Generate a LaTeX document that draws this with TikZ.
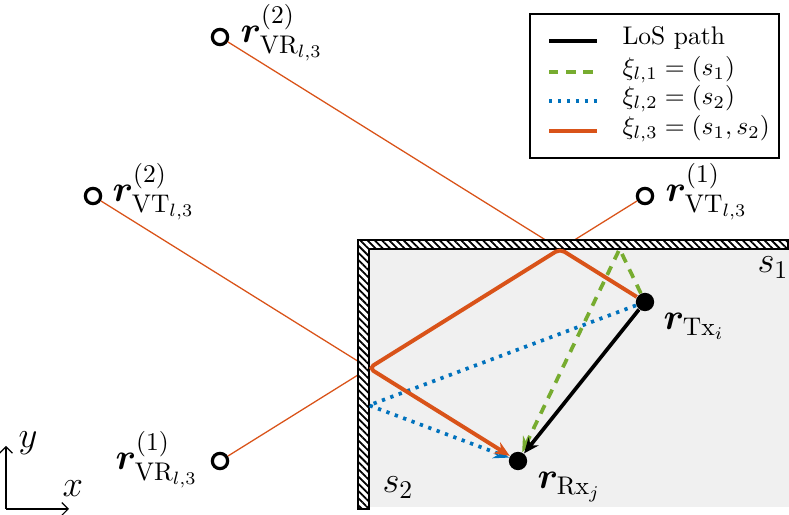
\documentclass[tikz,border=0pt]{standalone}
\usepackage{amsmath,bm}
\usetikzlibrary{patterns.meta,arrows.meta,calc}
\definecolor{myorange}{RGB}{217,83,25}
\definecolor{mygreen}{RGB}{119,172,48}
\definecolor{myblue}{RGB}{0,114,189}
\definecolor{roomgray}{RGB}{240,240,240}
\begin{document}
\begin{tikzpicture}[x=0.392pt,y=-0.392pt,
  antenna/.style={circle,fill=black,inner sep=0pt,minimum size=7.2pt},
  virt/.style={circle,draw=black,fill=white,line width=1.25pt,inner sep=0pt,minimum size=6pt},
  thinray/.style={myorange,line width=0.5pt},
  losray/.style={black,line width=1.45pt},
  onering/.style={mygreen,line width=1.45pt,dash pattern=on 3.7pt off 3pt},
  twoscat/.style={myblue,line width=1.45pt,dash pattern=on 1.3pt off 2.2pt},
  threeray/.style={myorange,line width=1.55pt,rounded corners=2pt},
  tip/.style={-{Stealth[length=6pt,width=5pt]}},
  lbl/.style={inner sep=0pt,anchor=base west,font=\Large},
  legtext/.style={inner sep=0pt,anchor=base west,font=\normalsize}]
\useasboundingbox (0,0) rectangle (789,515);

% geometry
\coordinate (P1) at (560,249);
\coordinate (P2) at (369,368.1);
\coordinate (G) at (619.6,249);
\coordinate (B) at (369,405.3);

% virtual nodes
\node[virt] (vt1) at (645,196) {};
\node[virt] (vt2) at (93,196) {};
\node[virt] (vr1) at (220,461) {};
\node[virt] (vr2) at (220,37) {};

% thin construction rays (covered by the walls below)
\draw[thinray] (vt1) -- (P1);
\draw[thinray] (vr2) -- (P1);
\draw[thinray] (vt2) -- (P2);
\draw[thinray] (vr1) -- (P2);

% room and walls
\fill[roomgray] (369,249) rectangle (789,507);
\fill[white] (358,240) -- (788,240) -- (788,249) -- (369,249) -- (369,509) -- (358,509) -- cycle;
\draw[line width=0.75pt,pattern={Lines[angle=-45,distance=2pt,line width=0.7pt]}]
  (358,240) -- (788,240) -- (788,249) -- (369,249) -- (369,509) -- (358,509) -- cycle;

% Tx / Rx
\node[antenna] (tx) at (645,302) {};
\node[antenna] (rx) at (518,461) {};

% rays
\draw[twoscat,tip] (tx) -- (B) -- (rx);
\draw[onering,tip] (tx) -- (G) -- (rx);
\draw[threeray,tip] (tx) -- (P1) -- (P2) -- (rx);
\draw[losray,tip] (tx) -- (rx);

% labels
\node[lbl] (ltx) at (663,330) {$\bm{r}_{\mathrm{Tx}_i}$};
\node[lbl] (lrx) at (537,489) {$\bm{r}_{\mathrm{Rx}_j}$};
\node[lbl] (ls1) at (757,273) {$s_1$};
\node[lbl] (ls2) at (382,493) {$s_2$};
\node[lbl] (lvt1) at (665,202) {$\bm{r}^{(1)}_{\mathrm{VT}_{l,3}}$};
\node[lbl] (lvt2) at (112,202) {$\bm{r}^{(2)}_{\mathrm{VT}_{l,3}}$};
\node[lbl] (lvr2) at (240,43) {$\bm{r}^{(2)}_{\mathrm{VR}_{l,3}}$};
\node[lbl] (lvr1) at (115,470) {$\bm{r}^{(1)}_{\mathrm{VR}_{l,3}}$};

% axes
\coordinate (o) at (6,509);
\coordinate (ay) at (6,446);
\coordinate (ax) at (69,509);
\draw[line width=0.45pt,-{Straight Barb[length=2.5pt]}] (o) -- (ay);
\draw[line width=0.45pt,-{Straight Barb[length=2.5pt]}] (o) -- (ax);
\node[lbl] (lay) at (18,448) {$y$};
\node[lbl] (lax) at (62,497) {$x$};

% legend
\node[draw=black,line width=0.5pt,fill=white,minimum width=249*0.392pt,minimum height=144*0.392pt,inner sep=0pt] (leg) at (654.5,86) {};
\coordinate (a1) at (549,41); \coordinate (b1) at (597,41);
\coordinate (a2) at (549,72); \coordinate (b2) at (597,72);
\coordinate (a3) at (549,101); \coordinate (b3) at (597,101);
\coordinate (a4) at (549,131); \coordinate (b4) at (597,131);
\draw[losray] (a1) -- (b1);
\draw[onering] (a2) -- (b2);
\draw[twoscat] (a3) -- (b3);
\draw[threeray] (a4) -- (b4);
\node[legtext] (t1) at (622,45) {LoS path};
\node[legtext] (t2) at (622,76) {$\xi_{l,1} = (s_1)$};
\node[legtext] (t3) at (622,105) {$\xi_{l,2} = (s_2)$};
\node[legtext] (t4) at (622,135) {$\xi_{l,3} = (s_1, s_2)$};
\end{tikzpicture}
\end{document}
